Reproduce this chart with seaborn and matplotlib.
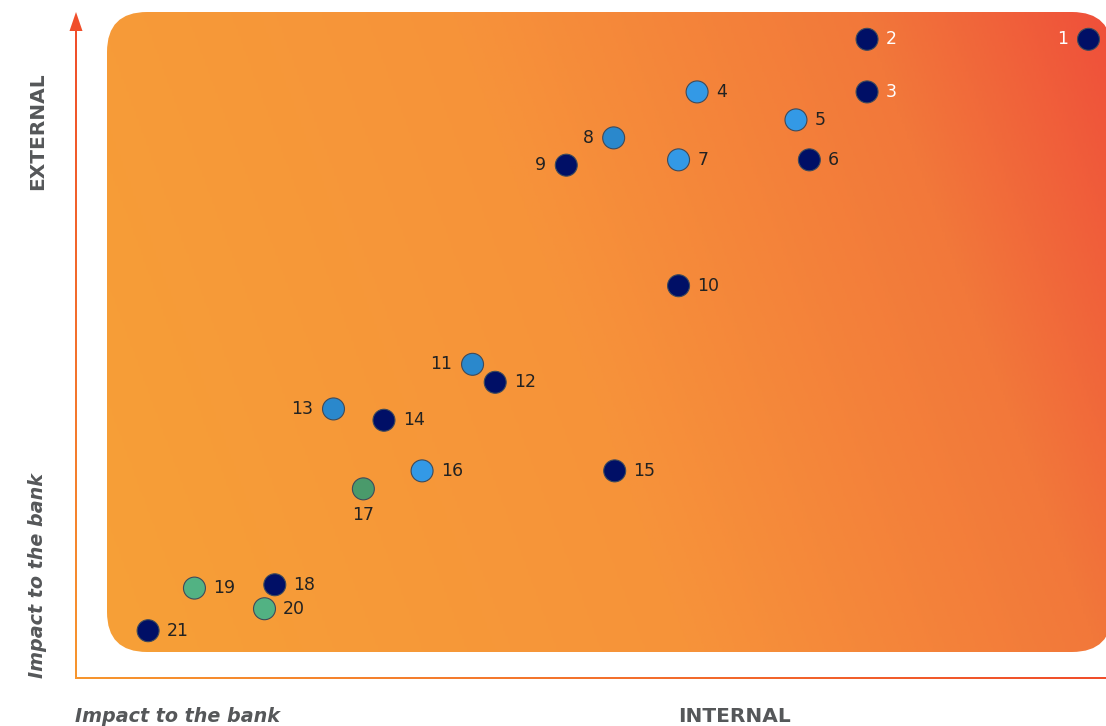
import numpy as np
import pandas as pd
import matplotlib
matplotlib.use("Agg")
import matplotlib.pyplot as plt
import seaborn as sns
from matplotlib.patches import FancyBboxPatch, Polygon
from matplotlib.colors import LinearSegmentedColormap

# ---- data: risk id, internal impact (x), external impact (y), colour group ----
risk_id = [1, 2, 3, 4, 5, 6, 7, 8, 9, 10, 11, 12, 13, 14, 15, 16, 17, 18, 19, 20, 21]
internal = [98.3, 76.8, 76.8, 60.3, 69.9, 71.2, 58.5, 52.2, 47.6, 58.5, 38.5,
            40.7, 25.0, 29.9, 52.3, 33.6, 27.9, 19.3, 11.5, 18.3, 7.0]
external = [95.9, 95.9, 88.0, 88.0, 83.8, 77.8, 77.8, 81.1, 77.0, 58.9, 47.1,
            44.4, 40.4, 38.7, 31.1, 31.1, 28.4, 14.0, 13.5, 10.4, 7.1]
group = ["navy", "navy", "navy", "sky", "sky", "navy", "sky", "azure", "navy", "navy", "azure",
         "navy", "azure", "navy", "navy", "sky", "sage", "navy", "mint", "mint", "navy"]
label_side = ["left", "right", "right", "right", "right", "right", "right", "left", "left", "right", "left",
              "right", "left", "right", "right", "right", "below", "right", "right", "right", "right"]
white_labels = [1, 2, 3]

palette = {"navy": "#000F66", "sky": "#3399E6", "azure": "#2A88CC",
           "mint": "#52B283", "sage": "#4A9A6B"}

df = pd.DataFrame({"id": risk_id, "internal": internal, "external": external,
                   "group": group, "side": label_side})

W, H = 1106, 726
sns.set_style("white")
plt.rcParams["font.family"] = ["DejaVu Sans"]

fig = plt.figure(figsize=(W / 100, H / 100), dpi=100)

# ---- background layer in pixel coordinates ----
bg = fig.add_axes([0, 0, 1, 1], zorder=0)
bg.set_xlim(0, W)
bg.set_ylim(H, 0)
bg.axis("off")

x0, y0, x1, y1 = 107, 12, 1112, 652
panel = FancyBboxPatch((x0, y0), x1 - x0, y1 - y0,
                       boxstyle="round,pad=0,rounding_size=40",
                       facecolor="none", edgecolor="none")
bg.add_patch(panel)
gx = np.linspace(x0, x1, 400)
gy = np.linspace(y0, y1, 260)
GX, GY = np.meshgrid(gx, gy)
t = ((GX - x0) + 0.37 * (y1 - GY)) / ((x1 - x0) + 0.37 * (y1 - y0))
warm = LinearSegmentedColormap.from_list(
    "warm", [(0.0, "#F6A037"), (0.47, "#F7933A"), (0.8, "#F2783A"), (1.0, "#EF4F3A")])
img = bg.imshow(t, cmap=warm, vmin=0, vmax=1, extent=(x0, x1, y1, y0),
                aspect="auto", interpolation="bilinear")
img.set_clip_path(panel)

# gradient axis lines (thin image strips) with an arrowhead on the vertical one
axis_cmap = LinearSegmentedColormap.from_list("axis", ["#F7962F", "#F04E2A"])
ramp = np.linspace(0, 1, 256)
bg.imshow(ramp[:, None], cmap=axis_cmap, vmin=0, vmax=1,
          extent=(75, 77, 679, 28), origin="lower", aspect="auto", interpolation="bilinear")
bg.imshow(ramp[None, :], cmap=axis_cmap, vmin=0, vmax=1,
          extent=(75, W, 679, 677), aspect="auto", interpolation="bilinear")
bg.add_patch(Polygon([(69.5, 31), (82.5, 31), (76, 12)], closed=True,
                     facecolor="#F04E2A", edgecolor="none"))
bg.set_xlim(0, W)
bg.set_ylim(H, 0)

# axis captions
cap = "#555759"
bg.text(38, 131, "EXTERNAL", rotation=90, ha="center", va="center",
        fontsize=14.5, fontweight="bold", color=cap)
bg.text(38, 576, "Impact to the bank", rotation=90, ha="center", va="center",
        fontsize=13.8, fontweight="bold", fontstyle="italic", color=cap)
bg.text(75, 716, "Impact to the bank", ha="left", va="center",
        fontsize=13.8, fontweight="bold", fontstyle="italic", color=cap)
bg.text(734, 716, "INTERNAL", ha="center", va="center",
        fontsize=14.5, fontweight="bold", color=cap)

# ---- scatter of risks ----
ax = fig.add_axes([76 / W, 48 / H, 1030 / W, 666 / H], zorder=1)
ax.patch.set_alpha(0)
sns.scatterplot(data=df, x="internal", y="external", hue="group", palette=palette,
                s=250, edgecolor="#3E4A5A", linewidth=0.8, legend=False, ax=ax, clip_on=False)
ax.set_xlim(0, 100)
ax.set_ylim(0, 100)
ax.axis("off")

for rid, xv, yv, side in zip(risk_id, internal, external, label_side):
    color = "white" if rid in white_labels else "#222222"
    if side == "right":
        off, ha, va = (13.5, 0), "left", "center"
    elif side == "left":
        off, ha, va = (-14.5, 0), "right", "center"
    else:
        off, ha, va = (0, -19), "center", "center"
    ax.annotate(str(rid), (xv, yv), xytext=off, textcoords="offset points",
                ha=ha, va=va, fontsize=12.5, color=color,
                annotation_clip=False)

fig.savefig("out.png", dpi=100)
